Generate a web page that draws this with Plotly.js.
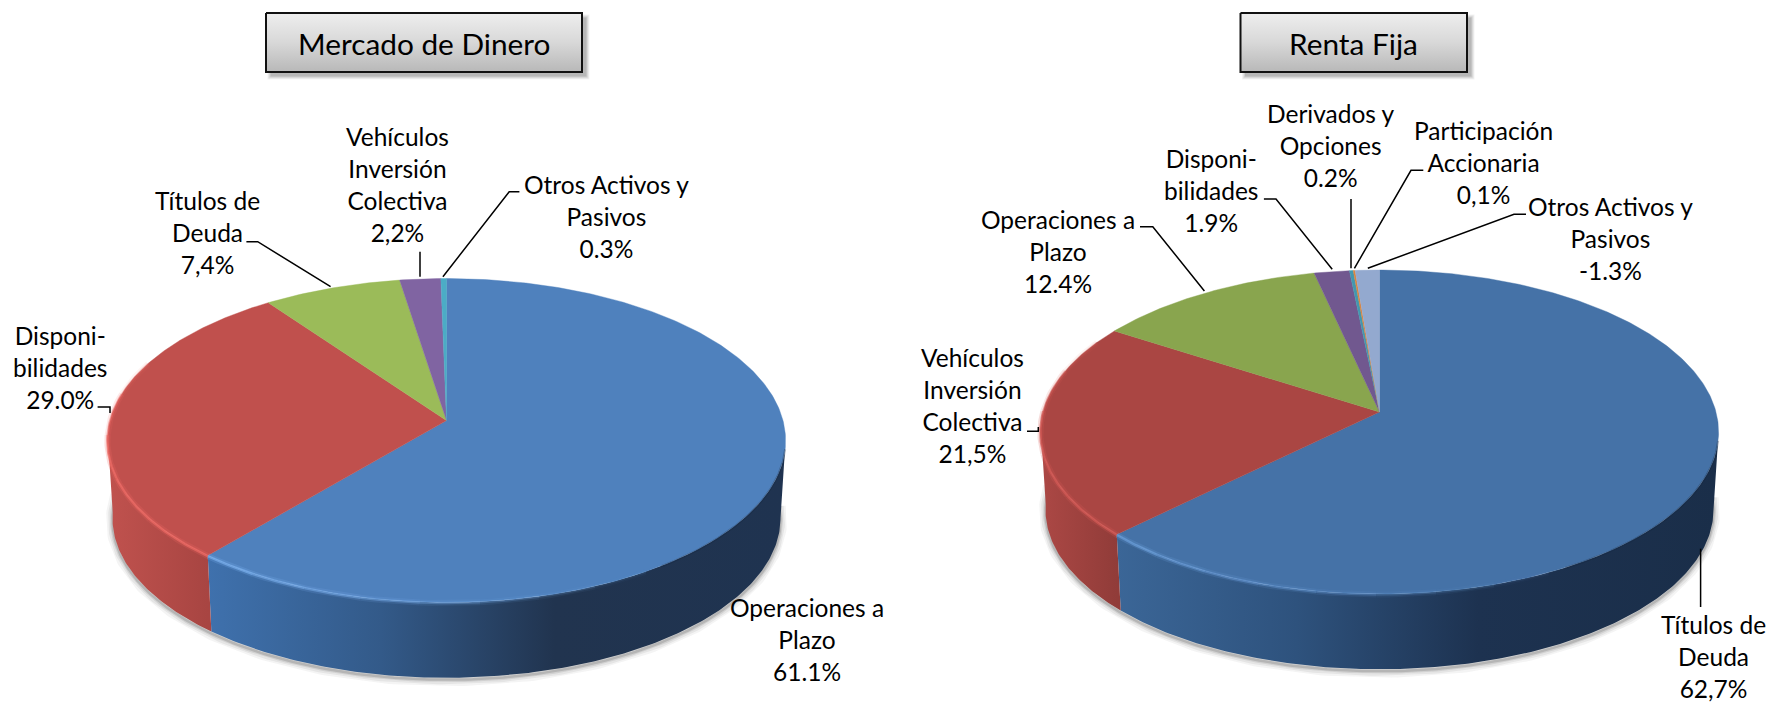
<!DOCTYPE html>
<html>
<head>
<meta charset="utf-8">
<script src="https://cdn.plot.ly/plotly-3.0.1.min.js"></script>
<style>html,body{margin:0;padding:0;background:#fff;overflow:hidden}#chart{width:1771px;height:704px}</style>
</head>
<body>
<div id="chart"></div>
<script>
// ---------- data ----------
const mdTitle = 'Mercado de Dinero';
const mdCategories = ['Operaciones a<br>Plazo', 'Disponi-<br>bilidades', 'Títulos de<br>Deuda', 'Vehículos<br>Inversión<br>Colectiva', 'Otros Activos y<br>Pasivos'];
const mdValues = [61.1, 29.0, 7.4, 2.2, 0.3];
const mdValueText = ['61.1%', '29.0%', '7,4%', '2,2%', '0.3%'];
const mdColors = ['#4F81BD', '#C0504D', '#9BBB59', '#8064A2', '#4BACC6'];

const rfTitle = 'Renta Fija';
const rfCategories = ['Títulos de<br>Deuda', 'Vehículos<br>Inversión<br>Colectiva', 'Operaciones a<br>Plazo', 'Disponi-<br>bilidades', 'Derivados y<br>Opciones', 'Participación<br>Accionaria', 'Otros Activos y<br>Pasivos'];
const rfValues = [62.7, 21.5, 12.4, 1.9, 0.2, 0.1, -1.3];
const rfValueText = ['62,7%', '21,5%', '12.4%', '1.9%', '0.2%', '0,1%', '-1.3%'];
const rfColors = ['#4572A7', '#AA4643', '#89A54E', '#71588F', '#4198AF', '#DB843D', '#93A9CF'];

// ---------- layout of each panel ----------
const FONT = 'Lato, Carlito, Calibri, sans-serif';
const LABEL_SIZE = 24.5;
const K = 0.1235, RX = 336.5, RY = 159.5, DEPTH = 78, SHRINK = 0.985;

const mdPanel = {
  cx: 446.5, cy: 420.5, box: [266, 582, 13, 72],
  labelPos: [[807, 639], [60, 367], [207, 232], [397, 184], [606, 216]],
  leaders: [
    [],
    [[97.6, 407], [110, 407], [110, 413]],
    [[246.4, 241.7], [257.7, 241.7], [330.6, 286.7]],
    [[420, 251.7], [420, 276.7]],
    [[519.4, 191.7], [509.2, 191.7], [442.9, 276.7]]
  ],
  sideStops: [
    [['#C0524E', 0], ['#A84542', 1]],
    [['#3F71AD', 0], ['#335A89', 0.3], ['#21344F', 0.6], ['#1F3350', 1]]
  ],
  rimColors: ['#7DB2F0', '#EE6A64']
};
const rfPanel = {
  cx: 1379.5, cy: 412, box: [1240.5, 1467, 13, 72],
  labelPos: [[1713, 656.5], [972.5, 405], [1058, 251], [1211, 190], [1330.6, 145], [1483, 162], [1610, 238]],
  leaders: [
    [[1700.6, 548.7], [1700.6, 607]],
    [[1027, 431.3], [1038.3, 431.3], [1038.3, 427]],
    [[1140, 226.7], [1152.8, 226.7], [1204.4, 291]],
    [[1263.9, 199], [1276, 199], [1332.2, 269.3]],
    [[1351, 199], [1351, 268.3]],
    [[1423.3, 170.3], [1411, 170.3], [1354.4, 268.3]],
    [[1526, 214.3], [1514, 214.3], [1367.8, 268.3]]
  ],
  sideStops: [
    [['#AC4845', 0], ['#913C39', 1]],
    [['#3B6697', 0], ['#2E527D', 0.3], ['#1D3250', 0.6], ['#1A2E49', 1]]
  ],
  rimColors: ['#6C9FDC', '#D45A55']
};

// ---------- projection of the tilted disc ----------
function pt(p, deg, level) {
  const t = deg * Math.PI / 180, u = Math.sin(t), v = Math.cos(t), d = 1 + K * v;
  const s = level ? SHRINK : 1;
  return [p.cx + s * RX * u / d, p.cy + (level ? DEPTH : 0) - s * RY * v / d];
}
function arc(p, a0, a1, level) {
  const n = Math.max(2, Math.ceil(Math.abs(a1 - a0) * 1.5)), out = [];
  for (let i = 0; i <= n; i++) out.push(pt(p, a0 + (a1 - a0) * i / n, level));
  return out;
}
function xs(pts) { return pts.map(q => q[0]); }
function ys(pts) { return pts.map(q => q[1]); }
function colorscale(stops) { return stops.map(s => [s[1], s[0]]); }
function polyTrace(pts, extra) {
  return Object.assign({type: 'scatter', mode: 'lines', x: xs(pts), y: ys(pts), fill: 'toself',
    line: {width: 0}, hoverinfo: 'skip', showlegend: false}, extra);
}
function lineTrace(pts, color, width) {
  return {type: 'scatter', mode: 'lines', x: xs(pts), y: ys(pts),
    line: {color: color, width: width, shape: 'linear'}, hoverinfo: 'skip', showlegend: false};
}

function buildPie(p, categories, values, valueText, colors) {
  const traces = [], abs = values.map(Math.abs), total = abs.reduce((a, b) => a + b, 0);
  let cum = 0;
  const bounds = abs.map(v => { const a = cum; cum += v; return [a / total * 360, cum / total * 360]; });
  const split = bounds[0][1];
  const xL = pt(p, 263, 0)[0], xR = pt(p, 97, 0)[0], xS = pt(p, split, 0)[0];

  // soft shadow round the lower edge
  const rim = arc(p, 92, 272, 1).map(q => [q[0], q[1] + 2]);
  [[13, 0.05], [9, 0.07], [5, 0.1], [2.5, 0.16]].forEach(s => traces.push(lineTrace(rim, 'rgba(40,40,40,' + s[1] + ')', s[0])));

  // side walls
  const wallBlue = arc(p, 97, split, 0).concat(arc(p, split, 97, 1));
  traces.push(polyTrace(wallBlue, {fillgradient: {type: 'horizontal', start: xS, stop: xR, colorscale: colorscale(p.sideStops[1])}}));
  const wallRed = arc(p, split, 265, 0).concat(arc(p, 265, split, 1));
  traces.push(polyTrace(wallRed, {fillgradient: {type: 'horizontal', start: xL, stop: xS, colorscale: colorscale(p.sideStops[0])}}));

  // top slices
  abs.forEach((v, i) => {
    const pts = [[p.cx, p.cy]].concat(arc(p, bounds[i][0], bounds[i][1], 0));
    traces.push(polyTrace(pts.concat([[p.cx, p.cy]]), {
      fillcolor: colors[i], line: {width: 0.4, color: colors[i]},
      name: categories[i].replace(/<br>/g, ' '), hoverinfo: 'skip'
    }));
  });

  // lit bevel along the front-left of the rim, fading out
  const rimSeg = (a0, a1, color, soft, hard) => {
    const pts = arc(p, a0, a1, 0).map(q => [q[0], q[1] + 0.5]);
    traces.push(lineTrace(pts, colorA(color, soft), 6));
    traces.push(lineTrace(pts, colorA(color, hard), 2.5));
  };
  for (let i = 0; i < 8; i++) {
    const f = 1 - i / 8;
    rimSeg(split - i * 9 - 9, split - i * 9, p.rimColors[0], 0.22 * f, 0.65 * f);
  }
  const redFade = [split, split + 15, split + 30, split + 45, split + 60, split + 72];
  for (let i = 0; i < redFade.length - 1; i++) {
    const f = i < 3 ? 1 : 1 - (i - 2) / 3;
    rimSeg(redFade[i], redFade[i + 1], p.rimColors[1], 0.22 * f, 0.7 * f);
  }
  // dark soft edge on the right-hand front
  const dark = arc(p, 100, split - 75, 0).map(q => [q[0], q[1] + 0.5]);
  traces.push(lineTrace(dark, 'rgba(20,35,60,0.3)', 2));
  return traces;
}
function colorA(hex, a) {
  const n = parseInt(hex.slice(1), 16);
  return 'rgba(' + (n >> 16) + ',' + ((n >> 8) & 255) + ',' + (n & 255) + ',' + a + ')';
}

function titleBox(p, title, traces, shapes, annotations) {
  const [x0, x1, y0, y1] = p.box;
  [[9, 0.06], [7, 0.08], [5, 0.1], [3, 0.14]].forEach(s => shapes.push({
    type: 'rect', layer: 'below', x0: x0 + 6 - s[0] / 2, x1: x1 + 3 + s[0] / 2, y0: y0 + 6 - s[0] / 2, y1: y1 + 3 + s[0] / 2,
    line: {width: 0}, fillcolor: 'rgba(40,40,40,' + s[1] + ')'
  }));
  const pts = [[x0, y0], [x1, y0], [x1, y1], [x0, y1], [x0, y0]];
  traces.push(polyTrace(pts, {
    line: {width: 2, color: '#111'},
    fillgradient: {type: 'vertical', start: y0, stop: y1, colorscale: [[0, '#EEEEEE'], [0.5, '#D8D8D8'], [1, '#B8B8B8']]}
  }));
  annotations.push({x: (x0 + x1) / 2, y: (y0 + y1) / 2 + 1, xref: 'x', yref: 'y', text: title, showarrow: false,
    font: {family: FONT, size: 29.8, color: '#000'}, xanchor: 'center', yanchor: 'middle'});
}

function addLabels(p, categories, valueText, shapes, annotations) {
  categories.forEach((c, i) => {
    annotations.push({x: p.labelPos[i][0], y: p.labelPos[i][1], xref: 'x', yref: 'y',
      text: c + '<br>' + valueText[i], showarrow: false, align: 'center',
      xanchor: 'center', yanchor: 'middle', font: {family: FONT, size: LABEL_SIZE, color: '#000'}});
    const l = p.leaders[i];
    if (l.length) shapes.push({type: 'path', layer: 'above',
      path: l.map((q, j) => (j ? 'L' : 'M') + q[0] + ',' + q[1]).join(' '),
      line: {color: '#000', width: 1.5}});
  });
}

const traces = [], shapes = [], annotations = [];
traces.push(...buildPie(mdPanel, mdCategories, mdValues, mdValueText, mdColors));
traces.push(...buildPie(rfPanel, rfCategories, rfValues, rfValueText, rfColors));
titleBox(mdPanel, mdTitle, traces, shapes, annotations);
titleBox(rfPanel, rfTitle, traces, shapes, annotations);
addLabels(mdPanel, mdCategories, mdValueText, shapes, annotations);
addLabels(rfPanel, rfCategories, rfValueText, shapes, annotations);

Plotly.newPlot('chart', traces, {
  width: 1771, height: 704, margin: {l: 0, r: 0, t: 0, b: 0},
  paper_bgcolor: '#fff', plot_bgcolor: '#fff', showlegend: false, hovermode: false,
  xaxis: {range: [0, 1771], visible: false, fixedrange: true},
  yaxis: {range: [704, 0], visible: false, fixedrange: true},
  shapes: shapes, annotations: annotations
}, {displayModeBar: false, staticPlot: true});
</script>
</body>
</html>
